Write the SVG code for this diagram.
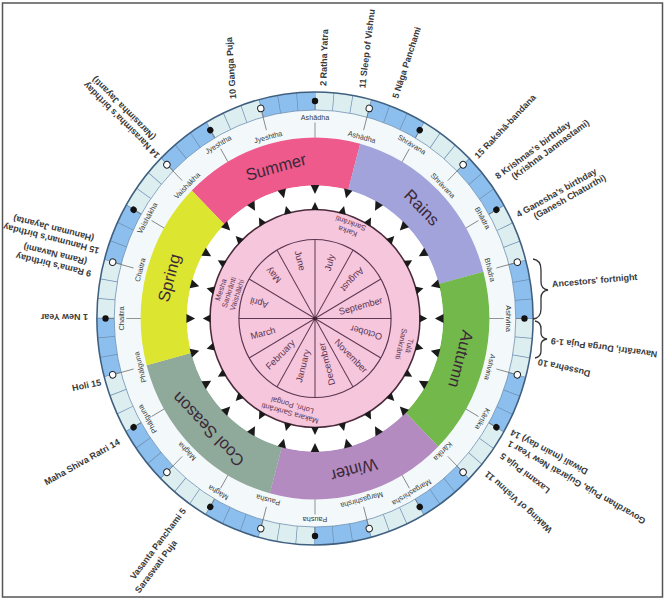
<svg xmlns="http://www.w3.org/2000/svg" width="667" height="600" viewBox="0 0 667 600">
<style>
.f{font-family:"Liberation Sans",Arial,sans-serif;font-weight:bold;font-size:9px;fill:#3a3a3a}
.e{text-anchor:end}
.m{font-family:"Liberation Sans",Arial,sans-serif;font-size:7.5px;fill:#3a3a3a;text-anchor:middle}
.mo{font-family:"Liberation Sans",Arial,sans-serif;font-size:9.5px;fill:#5a3550;text-anchor:middle}
.s{font-family:"Liberation Sans",Arial,sans-serif;font-size:7.5px;fill:#5a3550;text-anchor:middle}
.se{font-family:"Liberation Sans",Arial,sans-serif;font-size:17px;fill:#3b2838;text-anchor:middle}
.ml{stroke:#777;stroke-width:0.8}
.fd{fill:#111}
.od{fill:#fff;stroke:#222;stroke-width:1}
.tri{fill:#1a1a1a}
.sp{stroke:#5b3550;stroke-width:1}
.br{fill:none;stroke:#333;stroke-width:1.3}
</style>
<defs>
<path id="to" d="M-4.5,-133.5 L4.5,-133.5 L0,-124.5 Z"/>
<path id="ti" d="M-4,-108.5 L4,-108.5 L0,-116.5 Z"/>
</defs>
<rect x="2.5" y="3" width="660" height="594" fill="#fff" stroke="#555" stroke-width="1.5"/>
<g id="wheel" transform="translate(315,318.5) scale(0.963,1)">
 <g id="tithi-ring">
  <circle r="208.5" fill="#F3F9FB"/>
  <circle r="217.5" fill="none" stroke="#DCEEF0" stroke-width="18"/>
  <circle r="217.5" fill="none" stroke="#8DBFEE" stroke-width="18" stroke-dasharray="56.941 56.941" transform="rotate(-75)"/>
  <circle r="217.5" fill="none" stroke="#6d8db0" stroke-width="18" stroke-dasharray="0.7 18.28" stroke-dashoffset="0.35" transform="rotate(-90)"/>
  <circle r="226.5" fill="none" stroke="#3f5f7f" stroke-width="1.6"/>
  <circle r="208.5" fill="none" stroke="#6d8db0" stroke-width="0.8"/>
 </g>
 <g id="seasons">
  <circle r="157" fill="none" stroke="#EE5A8C" stroke-width="48" stroke-dasharray="164.41 822.05" transform="rotate(225)"/>
  <circle r="157" fill="none" stroke="#A3A3DC" stroke-width="48" stroke-dasharray="164.41 822.05" transform="rotate(-75)"/>
  <circle r="157" fill="none" stroke="#72B84A" stroke-width="48" stroke-dasharray="164.41 822.05" transform="rotate(-15)"/>
  <circle r="157" fill="none" stroke="#B38BC0" stroke-width="48" stroke-dasharray="164.41 822.05" transform="rotate(45)"/>
  <circle r="157" fill="none" stroke="#8FA99A" stroke-width="48" stroke-dasharray="164.41 822.05" transform="rotate(105)"/>
  <circle r="157" fill="none" stroke="#DCE530" stroke-width="48" stroke-dasharray="164.41 822.05" transform="rotate(165)"/>
  <text class="se" transform="rotate(345) translate(0,-157)" dy="0.35em">Summer</text>
  <text class="se" transform="rotate(45) translate(0,-157)" dy="0.35em">Rains</text>
  <text class="se" transform="rotate(105) translate(0,-157)" dy="0.35em">Autumn</text>
  <text class="se" transform="rotate(165) translate(0,-157)" dy="0.35em">Winter</text>
  <text class="se" transform="rotate(225) translate(0,-157)" dy="0.35em">Cool Season</text>
  <text class="se" transform="rotate(285) translate(0,-157)" dy="0.35em">Spring</text>
 </g>
 <g id="connectors">
  <line class="ml" y1="-181" y2="-196" transform="rotate(0)"/><line class="ml" y1="-208.5" y2="-215" transform="rotate(0)"/>
  <line class="ml" y1="-181" y2="-196" transform="rotate(30)"/><line class="ml" y1="-208.5" y2="-215" transform="rotate(30)"/>
  <line class="ml" y1="-181" y2="-196" transform="rotate(60)"/><line class="ml" y1="-208.5" y2="-215" transform="rotate(60)"/>
  <line class="ml" y1="-181" y2="-196" transform="rotate(90)"/><line class="ml" y1="-208.5" y2="-215" transform="rotate(90)"/>
  <line class="ml" y1="-181" y2="-196" transform="rotate(120)"/><line class="ml" y1="-208.5" y2="-215" transform="rotate(120)"/>
  <line class="ml" y1="-181" y2="-196" transform="rotate(150)"/><line class="ml" y1="-208.5" y2="-215" transform="rotate(150)"/>
  <line class="ml" y1="-181" y2="-196" transform="rotate(180)"/><line class="ml" y1="-208.5" y2="-215" transform="rotate(180)"/>
  <line class="ml" y1="-181" y2="-196" transform="rotate(210)"/><line class="ml" y1="-208.5" y2="-215" transform="rotate(210)"/>
  <line class="ml" y1="-181" y2="-196" transform="rotate(240)"/><line class="ml" y1="-208.5" y2="-215" transform="rotate(240)"/>
  <line class="ml" y1="-181" y2="-196" transform="rotate(270)"/><line class="ml" y1="-208.5" y2="-215" transform="rotate(270)"/>
  <line class="ml" y1="-181" y2="-196" transform="rotate(300)"/><line class="ml" y1="-208.5" y2="-215" transform="rotate(300)"/>
  <line class="ml" y1="-181" y2="-196" transform="rotate(330)"/><line class="ml" y1="-208.5" y2="-215" transform="rotate(330)"/>
  <line class="ml" y1="-195" y2="-215" transform="rotate(15)"/>
  <line class="ml" y1="-195" y2="-215" transform="rotate(45)"/>
  <line class="ml" y1="-195" y2="-215" transform="rotate(75)"/>
  <line class="ml" y1="-195" y2="-215" transform="rotate(105)"/>
  <line class="ml" y1="-195" y2="-215" transform="rotate(135)"/>
  <line class="ml" y1="-195" y2="-215" transform="rotate(165)"/>
  <line class="ml" y1="-195" y2="-215" transform="rotate(195)"/>
  <line class="ml" y1="-195" y2="-215" transform="rotate(225)"/>
  <line class="ml" y1="-195" y2="-215" transform="rotate(255)"/>
  <line class="ml" y1="-195" y2="-215" transform="rotate(285)"/>
  <line class="ml" y1="-195" y2="-215" transform="rotate(315)"/>
  <line class="ml" y1="-195" y2="-215" transform="rotate(345)"/>
 </g>
 <g id="moon-dots">
  <circle class="fd" cy="-217.5" r="3.3" transform="rotate(0)"/>
  <circle class="fd" cy="-217.5" r="3.3" transform="rotate(30)"/>
  <circle class="fd" cy="-217.5" r="3.3" transform="rotate(60)"/>
  <circle class="fd" cy="-217.5" r="3.3" transform="rotate(90)"/>
  <circle class="fd" cy="-217.5" r="3.3" transform="rotate(120)"/>
  <circle class="fd" cy="-217.5" r="3.3" transform="rotate(150)"/>
  <circle class="fd" cy="-217.5" r="3.3" transform="rotate(180)"/>
  <circle class="fd" cy="-217.5" r="3.3" transform="rotate(210)"/>
  <circle class="fd" cy="-217.5" r="3.3" transform="rotate(240)"/>
  <circle class="fd" cy="-217.5" r="3.3" transform="rotate(270)"/>
  <circle class="fd" cy="-217.5" r="3.3" transform="rotate(300)"/>
  <circle class="fd" cy="-217.5" r="3.3" transform="rotate(330)"/>
  <circle class="od" cy="-217.5" r="3.3" transform="rotate(15)"/>
  <circle class="od" cy="-217.5" r="3.3" transform="rotate(45)"/>
  <circle class="od" cy="-217.5" r="3.3" transform="rotate(75)"/>
  <circle class="od" cy="-217.5" r="3.3" transform="rotate(105)"/>
  <circle class="od" cy="-217.5" r="3.3" transform="rotate(135)"/>
  <circle class="od" cy="-217.5" r="3.3" transform="rotate(165)"/>
  <circle class="od" cy="-217.5" r="3.3" transform="rotate(195)"/>
  <circle class="od" cy="-217.5" r="3.3" transform="rotate(225)"/>
  <circle class="od" cy="-217.5" r="3.3" transform="rotate(255)"/>
  <circle class="od" cy="-217.5" r="3.3" transform="rotate(285)"/>
  <circle class="od" cy="-217.5" r="3.3" transform="rotate(315)"/>
  <circle class="od" cy="-217.5" r="3.3" transform="rotate(345)"/>
 </g>
 <g id="lunar-months">
  <text class="m" transform="rotate(0) translate(0,-201)" dy="0.35em">Ashādha</text>
  <text class="m" transform="rotate(15) translate(0,-188)" dy="0.35em">Ashādha</text>
  <text class="m" transform="rotate(30) translate(0,-201)" dy="0.35em">Shrāvana</text>
  <text class="m" transform="rotate(45) translate(0,-188)" dy="0.35em">Shrāvana</text>
  <text class="m" transform="rotate(60) translate(0,-201)" dy="0.35em">Bhādra</text>
  <text class="m" transform="rotate(75) translate(0,-188)" dy="0.35em">Bhādra</text>
  <text class="m" transform="rotate(90) translate(0,-201)" dy="0.35em">Ashvina</text>
  <text class="m" transform="rotate(105) translate(0,-188)" dy="0.35em">Ashvina</text>
  <text class="m" transform="rotate(120) translate(0,-201)" dy="0.35em">Kārtika</text>
  <text class="m" transform="rotate(135) translate(0,-188)" dy="0.35em">Kārtika</text>
  <text class="m" transform="rotate(150) translate(0,-201)" dy="0.35em">Margashirsha</text>
  <text class="m" transform="rotate(165) translate(0,-188)" dy="0.35em">Margashirsha</text>
  <text class="m" transform="rotate(180) translate(0,-201)" dy="0.35em">Pausha</text>
  <text class="m" transform="rotate(195) translate(0,-188)" dy="0.35em">Pausha</text>
  <text class="m" transform="rotate(210) translate(0,-201)" dy="0.35em">Māgha</text>
  <text class="m" transform="rotate(225) translate(0,-188)" dy="0.35em">Māgha</text>
  <text class="m" transform="rotate(240) translate(0,-201)" dy="0.35em">Phālguna</text>
  <text class="m" transform="rotate(255) translate(0,-188)" dy="0.35em">Phālguna</text>
  <text class="m" transform="rotate(270) translate(0,-201)" dy="0.35em">Chaitra</text>
  <text class="m" transform="rotate(285) translate(0,-188)" dy="0.35em">Chaitra</text>
  <text class="m" transform="rotate(300) translate(0,-201)" dy="0.35em">Vaishākha</text>
  <text class="m" transform="rotate(315) translate(0,-188)" dy="0.35em">Vaishākha</text>
  <text class="m" transform="rotate(330) translate(0,-201)" dy="0.35em">Jyeshtha</text>
  <text class="m" transform="rotate(345) translate(0,-188)" dy="0.35em">Jyeshtha</text>
 </g>
 <g id="day-ring">
  <circle r="133" fill="#fff"/>
  <use href="#to" class="tri" transform="rotate(0)"/><use href="#to" class="tri" transform="rotate(15)"/><use href="#to" class="tri" transform="rotate(30)"/><use href="#to" class="tri" transform="rotate(45)"/>
  <use href="#to" class="tri" transform="rotate(60)"/><use href="#to" class="tri" transform="rotate(75)"/><use href="#to" class="tri" transform="rotate(90)"/><use href="#to" class="tri" transform="rotate(105)"/>
  <use href="#to" class="tri" transform="rotate(120)"/><use href="#to" class="tri" transform="rotate(135)"/><use href="#to" class="tri" transform="rotate(150)"/><use href="#to" class="tri" transform="rotate(165)"/>
  <use href="#to" class="tri" transform="rotate(180)"/><use href="#to" class="tri" transform="rotate(195)"/><use href="#to" class="tri" transform="rotate(210)"/><use href="#to" class="tri" transform="rotate(225)"/>
  <use href="#to" class="tri" transform="rotate(240)"/><use href="#to" class="tri" transform="rotate(255)"/><use href="#to" class="tri" transform="rotate(270)"/><use href="#to" class="tri" transform="rotate(285)"/>
  <use href="#to" class="tri" transform="rotate(300)"/><use href="#to" class="tri" transform="rotate(315)"/><use href="#to" class="tri" transform="rotate(330)"/><use href="#to" class="tri" transform="rotate(345)"/>
  <circle r="109" fill="#F6C6DD" stroke="#4b2b3b" stroke-width="1.6"/>
  <use href="#ti" class="tri" transform="rotate(0)"/><use href="#ti" class="tri" transform="rotate(15)"/><use href="#ti" class="tri" transform="rotate(30)"/><use href="#ti" class="tri" transform="rotate(45)"/>
  <use href="#ti" class="tri" transform="rotate(60)"/><use href="#ti" class="tri" transform="rotate(75)"/><use href="#ti" class="tri" transform="rotate(90)"/><use href="#ti" class="tri" transform="rotate(105)"/>
  <use href="#ti" class="tri" transform="rotate(120)"/><use href="#ti" class="tri" transform="rotate(135)"/><use href="#ti" class="tri" transform="rotate(150)"/><use href="#ti" class="tri" transform="rotate(165)"/>
  <use href="#ti" class="tri" transform="rotate(180)"/><use href="#ti" class="tri" transform="rotate(195)"/><use href="#ti" class="tri" transform="rotate(210)"/><use href="#ti" class="tri" transform="rotate(225)"/>
  <use href="#ti" class="tri" transform="rotate(240)"/><use href="#ti" class="tri" transform="rotate(255)"/><use href="#ti" class="tri" transform="rotate(270)"/><use href="#ti" class="tri" transform="rotate(285)"/>
  <use href="#ti" class="tri" transform="rotate(300)"/><use href="#ti" class="tri" transform="rotate(315)"/><use href="#ti" class="tri" transform="rotate(330)"/><use href="#ti" class="tri" transform="rotate(345)"/>
 </g>
 <g id="solar-months">
  <circle r="79" fill="none" stroke="#5b3550" stroke-width="1.2"/>
  <line class="sp" y2="-79" transform="rotate(0)"/><line class="sp" y2="-79" transform="rotate(30)"/><line class="sp" y2="-79" transform="rotate(60)"/>
  <line class="sp" y2="-79" transform="rotate(90)"/><line class="sp" y2="-79" transform="rotate(120)"/><line class="sp" y2="-79" transform="rotate(150)"/>
  <line class="sp" y2="-79" transform="rotate(180)"/><line class="sp" y2="-79" transform="rotate(210)"/><line class="sp" y2="-79" transform="rotate(240)"/>
  <line class="sp" y2="-79" transform="rotate(270)"/><line class="sp" y2="-79" transform="rotate(300)"/><line class="sp" y2="-79" transform="rotate(330)"/>
  <circle r="2" fill="#3a2030"/>
  <text class="mo" transform="rotate(15) translate(0,-58) rotate(-90)" dy="0.35em">July</text>
  <text class="mo" transform="rotate(45) translate(0,-55) rotate(90)" dy="0.35em">August</text>
  <text class="mo" transform="rotate(75) translate(0,-49) rotate(-90)" dy="0.35em">September</text>
  <text class="mo" transform="rotate(105) translate(0,-55) rotate(90)" dy="0.35em">October</text>
  <text class="mo" transform="rotate(135) translate(0,-53) rotate(-90)" dy="0.35em">November</text>
  <text class="mo" transform="rotate(165) translate(0,-47) rotate(90)" dy="0.35em">December</text>
  <text class="mo" transform="rotate(195) translate(0,-49) rotate(90)" dy="0.35em">January</text>
  <text class="mo" transform="rotate(225) translate(0,-51) rotate(90)" dy="0.35em">February</text>
  <text class="mo" transform="rotate(255) translate(0,-56) rotate(90)" dy="0.35em">March</text>
  <text class="mo" transform="rotate(285) translate(0,-60) rotate(-90)" dy="0.35em">April</text>
  <text class="mo" transform="rotate(315) translate(0,-61) rotate(-90)" dy="0.35em">May</text>
  <text class="mo" transform="rotate(345) translate(0,-60) rotate(90)" dy="0.35em">June</text>
 </g>
</g>
<g id="sankranti">
 <text class="s" transform="translate(349,228) rotate(200)"><tspan x="0" y="-1">Karka</tspan><tspan x="0" y="7.5">Sankrānti</tspan></text>
 <text class="s" transform="translate(406,345) rotate(103)"><tspan x="0" y="-1">Tulā</tspan><tspan x="0" y="7.5">Sankrānti</tspan></text>
 <text class="s" transform="translate(228,292) rotate(288)"><tspan x="0" y="-5">Mesha</tspan><tspan x="0" y="3.5">Sankrānti</tspan><tspan x="0" y="12">Vaishākhi</tspan></text>
 <text class="s" transform="translate(291,410) rotate(196)"><tspan x="0" y="-1">Makara Sankrānti</tspan><tspan x="0" y="7.5">Lohri, Pongal</tspan></text>
</g>
<g id="braces">
 <path class="br" d="M533,259 Q541,260 541,270 L541,282 Q541,289 548,290 Q541,291 541,298 L541,309 Q541,318 533,319"/>
 <path class="br" d="M535,321 Q541,322 541,329 L541,333 Q541,338 547,339 Q541,340 541,345 L541,351 Q541,357 535,358"/>
</g>
<g id="festivals">
 <text class="f" transform="translate(323,86) rotate(-88)" dy="0.35em">2 Ratha Yatra</text>
 <text class="f" transform="translate(362,88) rotate(-83)" dy="0.35em">11 Sleep of Vishnu</text>
 <text class="f" transform="translate(395,98) rotate(-72)" dy="0.35em">5 Nāga Panchami</text>
 <text class="f" transform="translate(476,157) rotate(-46.5)" dy="0.35em">15 Rakshā-bandana</text>
 <text class="f" transform="translate(496,177) rotate(-36.5)" dy="0.35em">8 Krishnas's birthday</text>
 <text class="f" transform="translate(496,177) rotate(-36.5)" x="13" y="10" dy="0.35em">(Krishna Janmastami)</text>
 <text class="f" transform="translate(517,215) rotate(-29.5)" dy="0.35em">4 Ganesha's birthday</text>
 <text class="f" transform="translate(517,215) rotate(-29.5)" x="14" y="10" dy="0.35em">(Ganesh Chaturthi)</text>
 <text class="f" transform="translate(552,284) rotate(-5)" dy="0.35em">Ancestors' fortnight</text>
 <text class="f e" transform="translate(551,341) rotate(187.3)" dy="0.35em">Navarātri, Durga Puja 1-9</text>
 <text class="f e" transform="translate(538,362) rotate(193)" dy="0.35em">Dussehra 10</text>
 <text class="f e" transform="translate(511,432) rotate(208)" dy="0.35em">Diwali (main day) 14</text>
 <text class="f e" transform="translate(508,443) rotate(210)" dy="0.35em">Govardhan Puja, Gujarati New Year 1</text>
 <text class="f e" transform="translate(501,455) rotate(217.6)" dy="0.35em">Laxami Puja 5</text>
 <text class="f e" transform="translate(486,473) rotate(222)" dy="0.35em">Waking of Vishnu 11</text>
 <text class="f e" transform="translate(119,441) rotate(-29.4)" dy="0.35em">Maha Shiva Ratri 14</text>
 <text class="f e" transform="translate(184,509) rotate(-53)" dy="0.35em">Vasanta Panchami 5</text>
 <text class="f e" transform="translate(175,541) rotate(-53)" dy="0.35em">Saraswati Puja</text>
 <text class="f e" transform="translate(101,382) rotate(-12)" dy="0.35em">Holi 15</text>
 <text class="f" transform="translate(88,317) rotate(180)" dy="0.35em">1 New Year</text>
 <text class="f" transform="translate(91,274) rotate(193.6)" dy="0.35em">9 Rama's birthday</text>
 <text class="f" transform="translate(91,274) rotate(193.6)" x="7" y="10.7" dy="0.35em">(Rama Navami)</text>
 <text class="f" transform="translate(99,251) rotate(194.3)" dy="0.35em">15 Hanuman's birthday</text>
 <text class="f" transform="translate(99,251) rotate(194.3)" x="8" y="10.5" dy="0.35em">(Hanuman Jayanta)</text>
 <text class="f" transform="translate(158,157) rotate(225)" dy="0.35em">14 Narasimha's birthday</text>
 <text class="f" transform="translate(158,157) rotate(225)" x="16" y="10" dy="0.35em">(Narasimha Jayanti)</text>
 <text class="f" transform="translate(233,99) rotate(-94)" dy="0.35em">10 Ganga Puja</text>
</g>
</svg>
